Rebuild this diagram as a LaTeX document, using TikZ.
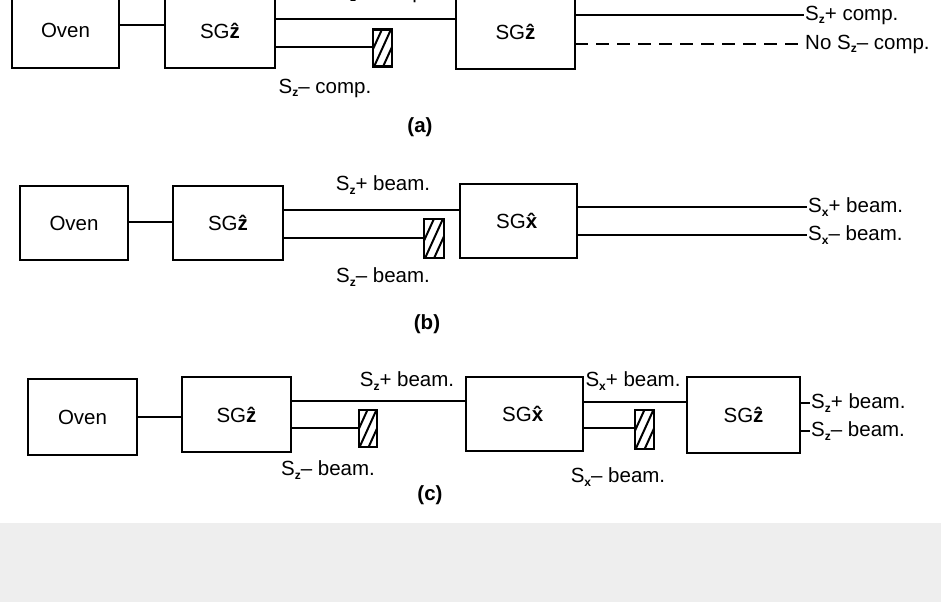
\documentclass[tikz,border=0pt]{standalone}
\usepackage{fontspec}
\setmainfont{Liberation Sans}
\newcommand{\SubS}[1]{S\raisebox{-0.3ex}{\fontsize{12}{12}\selectfont\bfseries #1}}
\newcommand{\HatV}[1]{\textbf{\^#1}}
\tikzset{
  box/.style={draw, line width=2.9pt, inner sep=0pt, outer sep=0pt, font=\fontsize{20.5}{20.5}\selectfont},
  beam/.style={line width=2.3pt},
  lbl/.style={font=\fontsize{20.5}{20.5}\selectfont, inner sep=1pt},
  stopper/.style={draw, line width=2.6pt, fill=white, inner sep=0pt, outer sep=0pt,
    path picture={
      \foreach \k in {-9,0,9}
        \draw[line width=2pt] ([shift={(\k pt-10pt,-22pt)}]path picture bounding box.center) -- ++(20pt,44pt);
    }},
}
\begin{document}
\begin{tikzpicture}[x=1pt,y=-1pt]
\useasboundingbox (0,0) rectangle (941,603);
\clip (0,0) rectangle (941,603);
\fill[fill={rgb,255:red,238;green,238;blue,238}] (0,523) rectangle (941,602);

% ---------------- (a)
\node[box, minimum width=107pt, minimum height=75pt] (ovenA) at (65.5,30.5) {Oven};
\node[box, minimum width=110pt, minimum height=75pt] (sgA) at (220,30.5) {SG\HatV{z}};
\node[box, minimum width=119pt, minimum height=75pt] (sgA2) at (515.5,31.5) {SG\HatV{z}};
\node[stopper, minimum width=19pt, minimum height=37pt] (stopA) at (382.5,48) {};
\coordinate (yA0) at (0,25);
\coordinate (yA1) at (0,19);
\coordinate (yA2) at (0,47);
\coordinate (endA1) at (804,15);
\coordinate (endA2) at (804,44);
\draw[beam] (ovenA.east |- yA0) -- (sgA.west |- yA0);
\draw[beam] (sgA.east |- yA1) -- (sgA2.west |- yA1);
\draw[beam] (sgA.east |- yA2) -- (stopA.west |- yA2);
\draw[beam] (sgA2.east |- endA1) -- (endA1);
\draw[beam, dash pattern=on 13pt off 8pt] (sgA2.east |- endA2) -- (endA2);
\node[lbl] (lA1) at (383,-7) {\SubS{z}+ comp.};
\node[lbl] (lA2) at (325,88) {\SubS{z}\textendash\ comp.};
\node[lbl, font=\fontsize{20.5}{20.5}\selectfont\bfseries] (capA) at (420,127) {(a)};
\node[lbl, anchor=west] (oA1) at (endA1) {\SubS{z}+ comp.};
\node[lbl, anchor=west] (oA2) at (endA2) {No \SubS{z}\textendash\ comp.};

% ---------------- (b)
\node[box, minimum width=108pt, minimum height=74pt] (ovenB) at (74,223) {Oven};
\node[box, minimum width=110pt, minimum height=74pt] (sgB) at (228,223) {SG\HatV{z}};
\node[stopper, minimum width=20pt, minimum height=39pt] (stopB) at (434,238.5) {};
\node[box, minimum width=117pt, minimum height=74pt] (sgxB) at (518.5,221) {SG\HatV{x}};
\coordinate (yB0) at (0,222);
\coordinate (yB1) at (0,210);
\coordinate (yB2) at (0,238);
\coordinate (endB1) at (807,207);
\coordinate (endB2) at (807,235);
\draw[beam] (ovenB.east |- yB0) -- (sgB.west |- yB0);
\draw[beam] (sgB.east |- yB1) -- (sgxB.west |- yB1);
\draw[beam] (sgB.east |- yB2) -- (stopB.west |- yB2);
\draw[beam] (sgxB.east |- endB1) -- (endB1);
\draw[beam] (sgxB.east |- endB2) -- (endB2);
\node[lbl] (lB1) at (383,185) {\SubS{z}+ beam.};
\node[lbl] (lB2) at (383,277) {\SubS{z}\textendash\ beam.};
\node[lbl, font=\fontsize{20.5}{20.5}\selectfont\bfseries] (capB) at (427,324) {(b)};
\node[lbl, anchor=west] (oB1) at (endB1) {\SubS{x}+ beam.};
\node[lbl, anchor=west] (oB2) at (endB2) {\SubS{x}\textendash\ beam.};

% ---------------- (c)
\node[box, minimum width=109pt, minimum height=76pt] (ovenC) at (82.5,417) {Oven};
\node[box, minimum width=109pt, minimum height=75pt] (sgC) at (236.5,414.5) {SG\HatV{z}};
\node[stopper, minimum width=18pt, minimum height=37pt] (stopC) at (368,428.5) {};
\node[box, minimum width=117pt, minimum height=74pt] (sgxC) at (524.5,414) {SG\HatV{x}};
\node[stopper, minimum width=19pt, minimum height=39pt] (stopC2) at (644.5,429.5) {};
\node[box, minimum width=113pt, minimum height=76pt] (sgzC) at (743.5,415) {SG\HatV{z}};
\coordinate (yC0) at (0,417);
\coordinate (yC1) at (0,401);
\coordinate (yC2) at (0,428);
\coordinate (yC3) at (0,402);
\coordinate (endC1) at (810,403);
\coordinate (endC2) at (810,431);
\draw[beam] (ovenC.east |- yC0) -- (sgC.west |- yC0);
\draw[beam] (sgC.east |- yC1) -- (sgxC.west |- yC1);
\draw[beam] (sgC.east |- yC2) -- (stopC.west |- yC2);
\draw[beam] (sgxC.east |- yC3) -- (sgzC.west |- yC3);
\draw[beam] (sgxC.east |- yC2) -- (stopC2.west |- yC2);
\draw[beam] (sgzC.east |- endC1) -- (endC1);
\draw[beam] (sgzC.east |- endC2) -- (endC2);
\node[lbl] (lC1) at (407,381) {\SubS{z}+ beam.};
\node[lbl] (lC2) at (328,470) {\SubS{z}\textendash\ beam.};
\node[lbl] (lC3) at (633,381) {\SubS{x}+ beam.};
\node[lbl] (lC4) at (618,477) {\SubS{x}\textendash\ beam.};
\node[lbl, font=\fontsize{20.5}{20.5}\selectfont\bfseries] (capC) at (430,495) {(c)};
\node[lbl, anchor=west] (oC1) at (endC1) {\SubS{z}+ beam.};
\node[lbl, anchor=west] (oC2) at (endC2) {\SubS{z}\textendash\ beam.};
\end{tikzpicture}
\end{document}
